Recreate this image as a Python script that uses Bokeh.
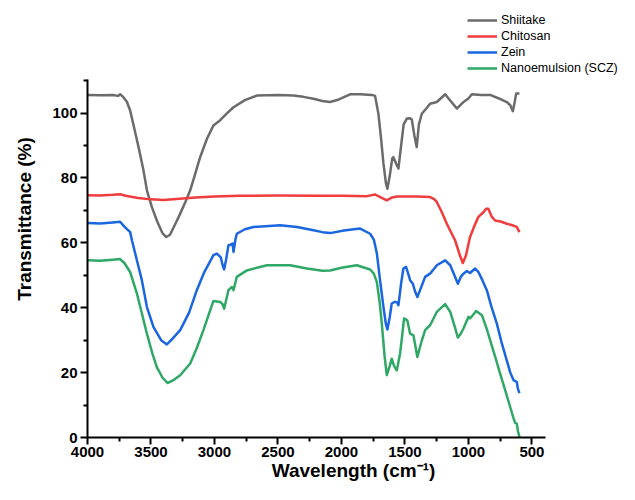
from bokeh.plotting import figure
from bokeh.models import Range1d, FixedTicker, Legend, LegendItem
from bokeh.embed import file_html
from bokeh.resources import INLINE

# ---- data ----
shiitake_x = [4000, 3900, 3800, 3760, 3743, 3720, 3690, 3664, 3630, 3598, 3560, 3532, 3493, 3450, 3410, 3380,
              3350, 3300, 3270, 3230, 3191, 3150, 3113, 3060, 3008, 2955, 2900, 2850, 2760, 2666, 2500, 2378,
              2300, 2220, 2150, 2089, 2020, 1932, 1850, 1761, 1735, 1709, 1690, 1669, 1650, 1638, 1620, 1600,
              1591, 1570, 1551, 1530, 1510, 1485, 1460, 1446, 1425, 1407, 1390, 1367, 1330, 1302, 1249, 1210,
              1183, 1150, 1110, 1091, 1060, 1039, 1000, 973, 900, 829, 760, 698, 670, 650, 635, 624, 598]
shiitake_y = [105.6, 105.5, 105.6, 105.3, 105.8, 105.0, 103.5, 100.8, 95.0, 89.5, 82.5, 76.2, 71.0, 66.5, 63.0, 61.8,
              62.5, 66.5, 69.0, 72.5, 76.2, 81.5, 86.4, 92.0, 96.2, 97.8, 100.0, 101.8, 104.0, 105.4, 105.6, 105.4,
              105.0, 104.4, 103.7, 103.4, 104.2, 105.8, 105.8, 105.6, 105.3, 99.8, 93.0, 84.4, 78.5, 76.7, 80.5, 86.0,
              86.4, 84.5, 82.9, 90.0, 96.5, 98.3, 98.4, 98.0, 93.0, 89.5, 96.5, 99.8, 101.5, 102.9, 103.4, 104.8,
              105.8, 104.2, 102.3, 101.4, 102.6, 103.4, 104.5, 105.8, 105.6, 105.6, 104.5, 103.4, 102.4, 100.6, 103.5, 106.0, 106.0]

chitosan_x = [4000, 3900, 3800, 3743, 3700, 3600, 3500, 3402, 3300, 3150, 3000, 2800, 2500, 2200, 2000, 1800,
              1735, 1690, 1643, 1600, 1564, 1400, 1302, 1270, 1249, 1210, 1170, 1140, 1105, 1070, 1044, 1020,
              987, 950, 921, 880, 860, 843, 815, 790, 740, 698, 660, 619, 598]
chitosan_y = [74.7, 74.6, 74.8, 75.0, 74.5, 73.8, 73.4, 73.2, 73.5, 74.0, 74.3, 74.5, 74.6, 74.5, 74.5, 74.4,
              74.9, 74.0, 73.1, 74.0, 74.3, 74.3, 74.1, 73.5, 72.6, 69.5, 65.9, 63.5, 60.8, 56.5, 53.8, 56.0,
              61.8, 65.5, 68.0, 69.5, 70.5, 70.5, 68.0, 66.9, 66.5, 65.9, 65.5, 64.9, 63.3]

zein_x = [4000, 3900, 3800, 3743, 3710, 3664, 3650, 3610, 3572, 3532, 3480, 3420, 3375, 3330, 3270, 3200,
          3139, 3080, 3008, 2981, 2950, 2935, 2924, 2910, 2890, 2870, 2858, 2850, 2835, 2824, 2760, 2693,
          2483, 2350, 2220, 2150, 2089, 1980, 1853, 1774, 1745, 1721, 1696, 1669, 1650, 1638, 1620, 1604,
          1580, 1564, 1551, 1530, 1512, 1491, 1470, 1459, 1438, 1420, 1402, 1370, 1341, 1302, 1270, 1249,
          1183, 1143, 1110, 1083, 1060, 1039, 1012, 987, 947, 921, 890, 855, 820, 776, 740, 698, 670, 645,
          619, 610, 598]
zein_y = [66.1, 66.0, 66.3, 66.5, 65.0, 63.3, 60.8, 54.5, 48.5, 40.2, 34.0, 30.0, 28.7, 30.5, 33.1, 38.5,
          45.4, 51.0, 56.2, 56.7, 55.5, 53.0, 51.8, 54.5, 59.2, 59.5, 59.8, 57.2, 61.0, 62.8, 64.2, 64.9,
          65.4, 64.9, 63.9, 63.3, 63.0, 63.8, 64.4, 62.8, 61.0, 56.7, 48.5, 40.2, 35.0, 33.3, 37.0, 41.3,
          41.8, 41.7, 40.8, 47.5, 52.1, 52.6, 50.0, 48.5, 47.4, 45.0, 43.3, 46.5, 49.5, 50.5, 52.0, 53.1,
          54.6, 53.1, 50.0, 47.4, 49.5, 50.5, 51.3, 50.7, 52.1, 51.0, 48.5, 45.4, 40.5, 35.1, 29.5, 23.8, 20.0, 17.7,
          17.1, 15.0, 13.7]

nano_x = [4000, 3900, 3800, 3743, 3710, 3664, 3611, 3570, 3532, 3490, 3454, 3410, 3370, 3330, 3270, 3191,
          3140, 3087, 3040, 3008, 2955, 2935, 2924, 2910, 2890, 2863, 2850, 2824, 2745, 2587, 2404, 2272,
          2150, 2089, 2000, 1879, 1774, 1745, 1721, 1700, 1682, 1660, 1643, 1620, 1604, 1585, 1564, 1538,
          1520, 1507, 1481, 1459, 1433, 1402, 1370, 1341, 1302, 1249, 1183, 1143, 1110, 1083, 1060, 1039,
          999, 987, 939, 894, 860, 829, 790, 750, 710, 671, 645, 632, 619, 610, 598]
nano_y = [54.6, 54.5, 54.8, 55.0, 53.8, 51.0, 44.4, 38.0, 32.0, 26.0, 21.7, 18.5, 16.8, 17.5, 19.2, 22.8,
          27.5, 33.1, 38.5, 42.1, 41.8, 41.0, 39.7, 42.0, 45.4, 46.4, 45.4, 49.5, 51.5, 53.1, 53.1, 52.1,
          51.4, 51.5, 52.3, 53.1, 51.8, 50.5, 47.9, 42.0, 35.1, 25.0, 19.2, 22.0, 24.3, 22.0, 20.7, 25.9,
          32.0, 36.7, 36.1, 32.0, 31.5, 24.8, 29.5, 33.1, 34.6, 38.7, 41.1, 38.7, 34.5, 30.8, 32.0, 33.6,
          37.2, 36.7, 39.0, 37.7, 34.0, 30.0, 25.0, 19.7, 14.5, 9.4, 6.0, 4.5, 4.3, 2.0, 0.2]

series_names = ["Shiitake", "Chitosan", "Zein", "Nanoemulsion (SCZ)"]
series_colors = ["#6b6b6b", "#f03c3c", "#1a66e0", "#2fa866"]

x_ticks = [4000, 3500, 3000, 2500, 2000, 1500, 1000, 500]
x_minor = [3750, 3250, 2750, 2250, 1750, 1250, 750]
y_ticks = [0, 20, 40, 60, 80, 100]
y_minor = [10, 30, 50, 70, 90, 110]
x_axis_end = 396
y_axis_end = 110.4

FONT = "Liberation Sans"

# frame covers the legend area too; axes are limited with bounds
p = figure(width=619, height=484, output_backend="svg", toolbar_location=None,
           x_range=Range1d(4000, -190), y_range=Range1d(0, 134.7),
           min_border_left=87, min_border_right=0, min_border_top=0, min_border_bottom=47)
p.outline_line_color = None
p.xgrid.visible = False
p.ygrid.visible = False
p.background_fill_color = "white"

renderers = []
for xs, ys, c in [(shiitake_x, shiitake_y, series_colors[0]),
                  (chitosan_x, chitosan_y, series_colors[1]),
                  (zein_x, zein_y, series_colors[2]),
                  (nano_x, nano_y, series_colors[3])]:
    r = p.line(xs, ys, line_color=c, line_width=2.5, line_join="round")
    renderers.append(r)

p.xaxis.ticker = FixedTicker(ticks=x_ticks, minor_ticks=x_minor)
p.yaxis.ticker = FixedTicker(ticks=y_ticks, minor_ticks=y_minor)
p.xaxis.bounds = (4000, x_axis_end)
p.yaxis.bounds = (0, y_axis_end)

for ax in (p.xaxis[0], p.yaxis[0]):
    ax.axis_line_width = 2
    ax.axis_line_color = "black"
    ax.major_tick_line_width = 2
    ax.minor_tick_line_width = 2
    ax.major_tick_in = 0
    ax.major_tick_out = 7
    ax.minor_tick_in = 0
    ax.minor_tick_out = 4
    ax.major_label_text_font = FONT
    ax.major_label_text_font_style = "bold"
    ax.major_label_text_font_size = "15px"
    ax.major_label_text_color = "black"
    ax.axis_label_text_font = FONT
    ax.axis_label_text_font_style = "bold"
    ax.axis_label_text_font_size = "19px"
    ax.axis_label_text_color = "black"

p.xaxis.axis_label = "Wavelength (cm\u207b\u00b9)"
p.yaxis.axis_label = "Transmittance (%)"
p.xaxis.major_label_standoff = 2
p.yaxis.major_label_standoff = 3
p.xaxis.axis_label_standoff = 0
p.yaxis.axis_label_standoff = 14

legend = Legend(items=[LegendItem(label=n, renderers=[r]) for n, r in zip(series_names, renderers)],
                location=(380, 361), orientation="vertical",
                label_text_font=FONT, label_text_font_size="12.5px", label_text_color="black",
                glyph_width=30, glyph_height=16, label_height=16, label_standoff=4,
                spacing=0, padding=0, margin=0,
                border_line_alpha=0, background_fill_alpha=0)
p.add_layout(legend, "center")

open("out.html", "w").write(file_html(p, INLINE))
